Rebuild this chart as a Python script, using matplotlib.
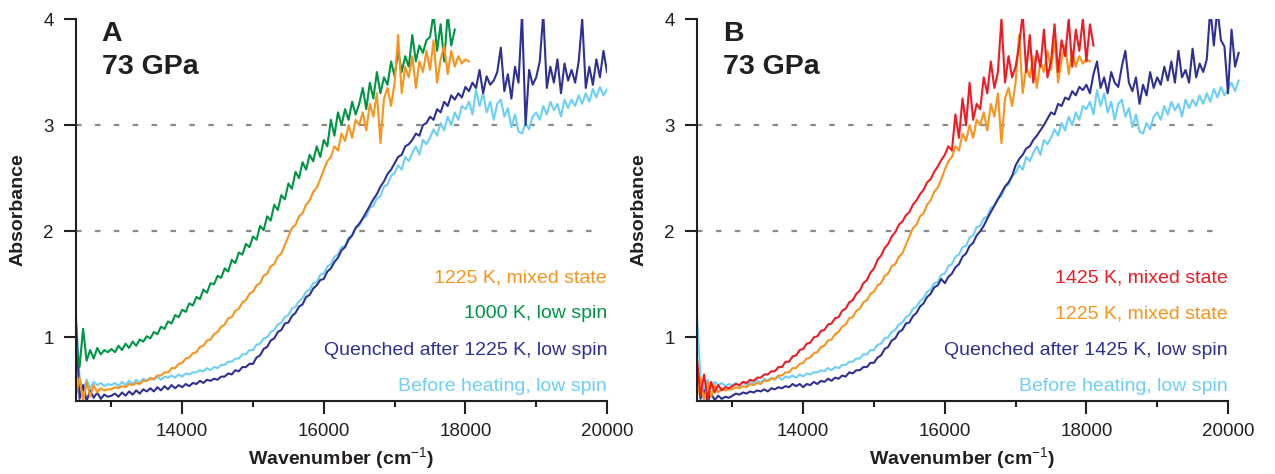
"""Absorbance spectra at 73 GPa: (A) 1000/1225 K runs, (B) 1225/1425 K runs."""
import matplotlib
matplotlib.use("Agg")
import matplotlib.pyplot as plt
import numpy as np

WN_START = 12500
WN_STEP = 50

# shared by both panels
before_heating = [
    1.20, 0.62, 0.50, 0.60, 0.52, 0.58, 0.55, 0.57, 0.54, 0.56,
    0.55, 0.57, 0.54, 0.58, 0.55, 0.59, 0.56, 0.60, 0.57, 0.61,
    0.59, 0.62, 0.60, 0.63, 0.60, 0.63, 0.62, 0.64, 0.62, 0.65,
    0.63, 0.66, 0.65, 0.67, 0.67, 0.69, 0.68, 0.71, 0.69, 0.72,
    0.71, 0.74, 0.74, 0.77, 0.77, 0.80, 0.80, 0.84, 0.84, 0.88,
    0.88, 0.93, 0.94, 0.99, 1.00, 1.05, 1.07, 1.12, 1.14, 1.19,
    1.21, 1.27, 1.29, 1.34, 1.37, 1.43, 1.45, 1.51, 1.52, 1.59,
    1.60, 1.67, 1.69, 1.76, 1.78, 1.85, 1.86, 1.94, 1.96, 2.04,
    2.05, 2.12, 2.14, 2.22, 2.24, 2.31, 2.33, 2.42, 2.44, 2.52,
    2.55, 2.62, 2.58, 2.70, 2.66, 2.74, 2.80, 2.72, 2.86, 2.82,
    2.88, 2.96, 2.90, 3.02, 2.95, 3.08, 3.00, 3.12, 3.05, 3.18,
    3.15, 3.22, 3.10, 3.33, 3.18, 3.30, 3.12, 3.22, 3.05, 3.20,
    3.24, 3.08, 3.16, 2.98, 3.10, 2.94, 2.92, 3.02, 2.96, 3.08,
    3.12, 3.05, 3.18, 3.10, 3.22, 3.14, 3.20, 3.08, 3.24, 3.16,
    3.24, 3.18, 3.28, 3.20, 3.30, 3.22, 3.34, 3.26, 3.36, 3.28,
    3.34, 3.40, 3.32, 3.42,
]

mixed_1225 = [
    0.45, 0.62, 0.40, 0.58, 0.44, 0.55, 0.48, 0.52, 0.50, 0.51,
    0.51, 0.53, 0.52, 0.54, 0.53, 0.56, 0.55, 0.57, 0.56, 0.59,
    0.59, 0.61, 0.61, 0.64, 0.64, 0.67, 0.67, 0.71, 0.71, 0.75,
    0.76, 0.80, 0.81, 0.85, 0.86, 0.91, 0.92, 0.97, 0.98, 1.03,
    1.05, 1.10, 1.12, 1.18, 1.19, 1.25, 1.27, 1.33, 1.35, 1.41,
    1.43, 1.49, 1.51, 1.58, 1.60, 1.67, 1.69, 1.76, 1.79, 1.87,
    1.95, 2.03, 2.06, 2.14, 2.17, 2.25, 2.29, 2.37, 2.41, 2.49,
    2.58, 2.66, 2.70, 2.80, 2.76, 2.92, 2.85, 3.00, 2.88, 3.05,
    3.00, 3.12, 2.95, 3.20, 3.08, 3.30, 2.83, 3.25, 3.35, 3.18,
    3.40, 3.85, 3.30, 3.55, 3.45, 3.65, 3.35, 3.60, 3.50, 3.70,
    3.52, 3.80, 3.40, 3.62, 3.75, 3.48, 3.70, 3.55, 3.65, 3.58,
    3.62, 3.60,
]

# panel A only
low_spin_1000 = [
    0.95, 0.72, 1.08, 0.78, 0.88, 0.80, 0.90, 0.84, 0.88, 0.86,
    0.89, 0.86, 0.92, 0.88, 0.94, 0.90, 0.96, 0.92, 0.98, 0.96,
    1.01, 0.99, 1.05, 1.03, 1.10, 1.08, 1.15, 1.13, 1.21, 1.19,
    1.26, 1.24, 1.32, 1.30, 1.38, 1.36, 1.45, 1.42, 1.51, 1.50,
    1.58, 1.56, 1.65, 1.62, 1.73, 1.70, 1.80, 1.78, 1.88, 1.85,
    1.95, 1.92, 2.05, 2.01, 2.14, 2.10, 2.25, 2.20, 2.34, 2.30,
    2.45, 2.40, 2.56, 2.50, 2.65, 2.58, 2.72, 2.66, 2.80, 2.70,
    2.86, 2.80, 3.05, 2.90, 3.12, 3.00, 3.15, 3.05, 3.22, 3.10,
    3.20, 3.35, 3.15, 3.40, 3.25, 3.50, 3.30, 3.45, 3.38, 3.60,
    3.46, 3.70, 3.50, 3.65, 3.55, 3.85, 3.60, 3.75, 3.68, 3.80,
    3.83, 4.05, 3.70, 3.95, 3.60, 4.05, 3.75, 3.90,
]

quenched_1225 = [
    1.15, 0.42, 0.55, 0.40, 0.50, 0.43, 0.48, 0.42, 0.46, 0.44,
    0.45, 0.47, 0.44, 0.48, 0.45, 0.49, 0.46, 0.50, 0.47, 0.51,
    0.49, 0.52, 0.49, 0.53, 0.50, 0.54, 0.51, 0.55, 0.52, 0.55,
    0.53, 0.56, 0.54, 0.57, 0.56, 0.59, 0.57, 0.60, 0.59, 0.61,
    0.60, 0.63, 0.63, 0.66, 0.65, 0.69, 0.68, 0.72, 0.72, 0.75,
    0.75, 0.81, 0.83, 0.89, 0.91, 0.97, 0.99, 1.05, 1.07, 1.13,
    1.14, 1.20, 1.23, 1.29, 1.31, 1.38, 1.40, 1.46, 1.49, 1.54,
    1.55, 1.62, 1.65, 1.71, 1.75, 1.82, 1.85, 1.92, 1.96, 2.03,
    2.07, 2.12, 2.18, 2.24, 2.30, 2.35, 2.42, 2.47, 2.54, 2.58,
    2.64, 2.70, 2.72, 2.80, 2.82, 2.86, 2.92, 2.90, 3.00, 3.02,
    3.08, 3.05, 3.15, 3.12, 3.22, 3.18, 3.28, 3.24, 3.30, 3.26,
    3.36, 3.32, 3.40, 3.35, 3.52, 3.30, 3.46, 3.38, 3.42, 3.50,
    3.73, 3.32, 3.48, 3.25, 3.55, 3.40, 4.05, 3.00, 3.52, 3.38,
    3.45, 3.60, 4.05, 3.35, 3.55, 3.40, 3.62, 3.30, 3.58, 3.42,
    3.52, 3.40, 3.60, 4.00, 3.35, 3.55, 3.38, 3.62, 3.45, 3.70,
    3.50,
]

# panel B only
mixed_1425 = [
    0.80, 0.45, 0.65, 0.42, 0.58, 0.48, 0.55, 0.50, 0.53, 0.52,
    0.54, 0.56, 0.55, 0.58, 0.57, 0.60, 0.59, 0.62, 0.62, 0.65,
    0.65, 0.68, 0.68, 0.72, 0.72, 0.77, 0.77, 0.82, 0.83, 0.88,
    0.89, 0.94, 0.95, 1.00, 1.01, 1.06, 1.07, 1.12, 1.13, 1.18,
    1.19, 1.25, 1.27, 1.33, 1.35, 1.41, 1.44, 1.51, 1.54, 1.61,
    1.65, 1.73, 1.77, 1.84, 1.88, 1.95, 1.99, 2.06, 2.09, 2.15,
    2.18, 2.25, 2.29, 2.35, 2.39, 2.46, 2.49, 2.56, 2.61, 2.67,
    2.72, 2.80, 2.76, 3.10, 2.88, 3.25, 3.00, 3.40, 3.05, 3.20,
    3.15, 3.45, 3.30, 3.60, 3.35, 3.50, 4.00, 3.40, 3.65, 3.45,
    3.55, 3.75, 4.05, 3.50, 3.85, 3.40, 3.70, 3.55, 3.90, 3.45,
    3.60, 3.95, 3.50, 3.80, 3.65, 4.00, 3.55, 3.90, 3.70, 4.00,
    3.60, 3.95, 3.75,
]

quenched_1425 = [
    0.70, 0.42, 0.50, 0.40, 0.47, 0.41, 0.45, 0.42, 0.44, 0.43,
    0.45, 0.47, 0.46, 0.48, 0.47, 0.49, 0.48, 0.50, 0.49, 0.51,
    0.49, 0.52, 0.51, 0.53, 0.52, 0.54, 0.53, 0.56, 0.54, 0.56,
    0.53, 0.56, 0.55, 0.58, 0.56, 0.59, 0.58, 0.61, 0.59, 0.62,
    0.61, 0.64, 0.63, 0.67, 0.66, 0.69, 0.69, 0.72, 0.72, 0.76,
    0.76, 0.81, 0.83, 0.89, 0.91, 0.97, 0.99, 1.05, 1.07, 1.13,
    1.14, 1.20, 1.23, 1.29, 1.32, 1.38, 1.41, 1.47, 1.49, 1.55,
    1.51, 1.57, 1.60, 1.66, 1.69, 1.76, 1.79, 1.86, 1.89, 1.96,
    2.00, 2.05, 2.12, 2.18, 2.24, 2.30, 2.36, 2.42, 2.46, 2.52,
    2.62, 2.68, 2.72, 2.78, 2.80, 2.86, 2.90, 2.95, 3.00, 3.06,
    3.12, 3.10, 3.20, 3.18, 3.26, 3.24, 3.32, 3.28, 3.36, 3.33,
    3.38, 3.30, 3.48, 3.60, 3.35, 3.45, 3.30, 3.50, 3.40, 3.36,
    3.55, 3.70, 3.40, 3.32, 3.45, 3.20, 3.38, 3.28, 3.50, 3.35,
    3.45, 3.38, 3.55, 3.42, 3.60, 3.40, 3.70, 3.45, 3.52, 3.40,
    3.72, 3.45, 3.58, 3.50, 3.62, 4.10, 3.75, 4.10, 3.80, 3.74,
    3.30, 3.90, 3.55, 3.68,
]

NAVY = "#2E3192"
LIGHT_BLUE = "#6DCFF6"
GREEN = "#009444"
ORANGE = "#F7941D"
RED = "#ED1C24"
INK = "#231F20"

# (values, colour), back to front
panel_a_series = [(before_heating, LIGHT_BLUE), (quenched_1225, NAVY),
                  (low_spin_1000, GREEN), (mixed_1225, ORANGE)]
panel_b_series = [(before_heating, LIGHT_BLUE), (quenched_1425, NAVY),
                  (mixed_1225, ORANGE), (mixed_1425, RED)]

panel_a_labels = [("1225 K, mixed state", ORANGE),
                  ("1000 K, low spin", GREEN),
                  ("Quenched after 1225 K, low spin", NAVY),
                  ("Before heating, low spin", LIGHT_BLUE)]
panel_b_labels = [("1425 K, mixed state", RED),
                  ("1225 K, mixed state", ORANGE),
                  ("Quenched after 1425 K, low spin", NAVY),
                  ("Before heating, low spin", LIGHT_BLUE)]
label_y = [1.56, 1.22, 0.88, 0.54]

plt.rcParams["font.family"] = ["Liberation Sans", "DejaVu Sans"]
plt.rcParams["mathtext.fontset"] = "custom"
plt.rcParams["mathtext.rm"] = "Liberation Sans"


def wavenumbers(values):
    return WN_START + WN_STEP * np.arange(len(values))


def draw_panel(ax, letter, series, labels, xmax):
    ax.hlines([2, 3], 12500, 19900, colors="#8a8a8a",
              linestyles=(0, (2.5, 6)), lw=1.6, zorder=0)
    for vals, color in series:
        ax.plot(wavenumbers(vals), vals, color=color, lw=1.5)
    for (txt, color), y in zip(labels, label_y):
        ax.text(20000, y, txt, color=color, ha="right", va="center", fontsize=14)

    ax.set_xlim(12500, xmax)
    ax.set_ylim(0.4, 4.0)
    ax.spines[["top", "right"]].set_visible(False)
    ax.spines["bottom"].set_bounds(12500, 20000)
    ax.spines["left"].set_bounds(0.4, 4.0)
    for sp in ("bottom", "left"):
        ax.spines[sp].set_linewidth(1.5)
        ax.spines[sp].set_color(INK)
    ax.set_xticks([14000, 16000, 18000, 20000])
    ax.set_xticks([13000, 15000, 17000, 19000], minor=True)
    ax.set_yticks([1, 2, 3, 4])
    ax.tick_params(which="major", length=9, width=1.5, pad=7,
                   labelsize=13.5, colors=INK)
    ax.tick_params(which="minor", length=4.5, width=1.5, colors=INK)

    ax.set_xlabel(r"Wavenumber (cm$^{-1}$)", fontsize=14, fontweight="bold",
                  color=INK, labelpad=4)
    ax.xaxis.label.set_x((20000 - 12500) / (xmax - 12500) / 2)
    ax.set_ylabel("Absorbance", fontsize=14, fontweight="bold", color=INK,
                  labelpad=12)

    ax.annotate(letter, xy=(0, 1), xycoords="axes fraction",
                xytext=(18.5, -15.5), textcoords="offset points",
                fontsize=20.5, fontweight="bold", color=INK, va="baseline")
    ax.annotate("73 GPa", xy=(0, 1), xycoords="axes fraction",
                xytext=(18.5, -39.5), textcoords="offset points",
                fontsize=20.5, fontweight="bold", color=INK, va="baseline")


fig = plt.figure(figsize=(12.75, 4.74), dpi=100)
ax_a = fig.add_axes([76 / 1275, 1 - 401 / 474, 531 / 1275, 382 / 474])
ax_b = fig.add_axes([697 / 1275, 1 - 401 / 474, 531 * 7700 / 7500 / 1275, 382 / 474])

draw_panel(ax_a, "A", panel_a_series, panel_a_labels, 20000)
draw_panel(ax_b, "B", panel_b_series, panel_b_labels, 20200)

fig.savefig("out.png", dpi=100)
